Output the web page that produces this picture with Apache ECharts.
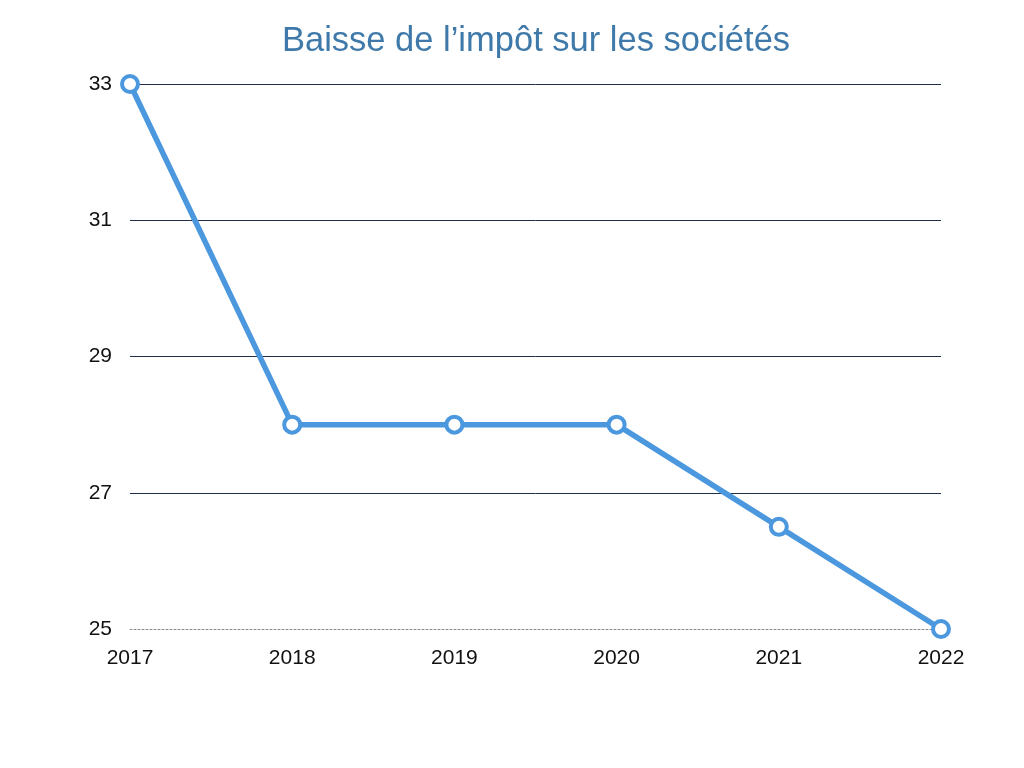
<!DOCTYPE html>
<html>
<head>
<meta charset="utf-8">
<script src="https://cdn.jsdelivr.net/npm/echarts@6/dist/echarts.min.js"></script>
<style>html,body{margin:0;padding:0;background:#fff}#c{width:1024px;height:768px}</style>
</head>
<body>
<div id="c"></div>
<script>
const title = "Baisse de l’impôt sur les sociétés";
const years = ["2017", "2018", "2019", "2020", "2021", "2022"];
const rates = [33, 28, 28, 28, 26.5, 25];
const yMin = 25, yMax = 33, yStep = 2;

const chart = echarts.init(document.getElementById('c'), null, {renderer: 'canvas'});
chart.setOption({
  animation: false,
  backgroundColor: '#ffffff',
  title: {
    text: title,
    left: 531, top: 19,
    textAlign: 'center',
    textStyle: {fontFamily: 'Liberation Sans, Arial, sans-serif', fontSize: 34.5, fontWeight: 'normal', color: '#3f79a9'}
  },
  grid: {left: 130, right: 83, top: 84, bottom: 139, containLabel: false},
  xAxis: {
    type: 'category', data: years, boundaryGap: false,
    axisLine: {show: true, onZero: false, lineStyle: {color: '#8a8a8a', width: 1, type: [2, 2]}},
    axisTick: {show: false},
    axisLabel: {margin: 19, fontFamily: 'Liberation Sans, Arial, sans-serif', fontSize: 21, color: '#111'},
    splitLine: {show: false}
  },
  yAxis: {
    type: 'value', min: yMin, max: yMax, interval: yStep,
    axisLine: {show: false}, axisTick: {show: false},
    axisLabel: {margin: 18, fontFamily: 'Liberation Sans, Arial, sans-serif', fontSize: 21, color: '#111'},
    splitLine: {show: true, lineStyle: {color: ['rgba(0,0,0,0)', '#1f2f4a', '#1f2f4a', '#1f2f4a', '#1f2f4a'], width: 1}}
  },
  series: [{
    type: 'line', data: rates,
    lineStyle: {color: '#4c98df', width: 5.5},
    symbol: 'circle', symbolSize: 16,
    itemStyle: {color: '#ffffff', borderColor: '#4c98df', borderWidth: 4},
    z: 5
  }]
});
</script>
</body>
</html>
